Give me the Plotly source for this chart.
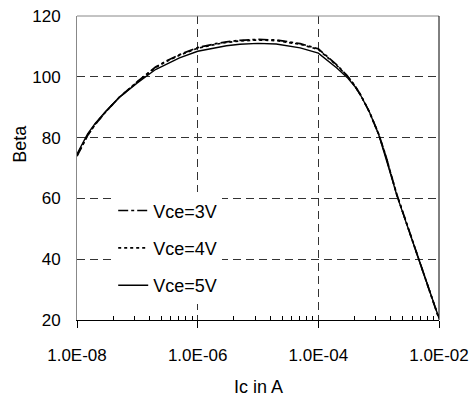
import plotly.graph_objects as go

# ---- data ----
ic_amps = [1e-8, 1.5e-8, 2e-8, 3e-8, 5e-8, 7e-8, 1e-7, 2e-7, 3e-7, 5e-7,
           1e-6, 2e-6, 3e-6, 5e-6, 1e-5, 2e-5, 3e-5, 5e-5, 1e-4, 1.5e-4,
           2e-4, 3e-4, 4e-4, 5e-4, 7e-4, 1e-3, 1.3e-3, 1.6e-3, 2e-3, 3e-3,
           4e-3, 5e-3, 7e-3, 1e-2]
beta_vce3 = [73.9, 80.7, 84.3, 88.5, 93.2, 95.8, 98.4, 103.2, 105.2, 107.3,
             109.6, 110.9, 111.5, 112.0, 112.3, 112.1, 111.6, 110.9, 109.2, 106.3,
             104.0, 100.4, 97.2, 94.1, 88.5, 81.2, 74.3, 68.0, 61.3, 51.0,
             43.5, 37.8, 29.5, 20.4]
beta_vce4 = [74.1, 80.8, 84.4, 88.5, 93.2, 95.8, 98.3, 103.0, 105.0, 107.1,
             109.4, 110.7, 111.3, 111.8, 112.1, 111.9, 111.4, 110.7, 109.0, 106.1,
             103.8, 100.3, 97.1, 94.1, 88.5, 81.1, 74.2, 67.9, 61.2, 50.9,
             43.5, 37.8, 29.5, 20.5]
beta_vce5 = [74.6, 81.2, 84.7, 88.7, 93.2, 95.6, 98.0, 102.4, 104.2, 106.2,
             108.4, 109.6, 110.2, 110.7, 111.0, 110.8, 110.3, 109.5, 107.8, 105.1,
             103.0, 99.8, 96.9, 94.0, 88.5, 81.0, 73.9, 67.6, 61.0, 50.8,
             43.4, 37.8, 29.5, 20.6]
series_names = ["Vce=3V", "Vce=4V", "Vce=5V"]

x_tick_vals = [1e-8, 1e-6, 1e-4, 1e-2]
x_tick_text = ["1.0E-08", "1.0E-06", "1.0E-04", "1.0E-02"]
x_minor_vals = [m * m * d for d in (1e-8, 1e-6, 1e-4) for m in range(2, 10)]
y_tick_vals = [20, 40, 60, 80, 100, 120]

FONT = "Liberation Sans, Arial, sans-serif"

fig = go.Figure()
styles = [dict(dash="10px,3px,3px,3px", width=1.7),
          dict(dash="3px,3px", width=1.7),
          dict(dash="solid", width=1.4)]
for name, ys, st, grp in zip(series_names, [beta_vce3, beta_vce4, beta_vce5], styles, ["a", "b", "c"]):
    fig.add_trace(go.Scatter(x=ic_amps, y=ys, mode="lines", name=name,
                             legendgroup=grp,
                             line=dict(color="black", **st)))

fig.update_layout(
    width=473, height=414,
    margin=dict(l=77, r=34, t=16, b=94),
    paper_bgcolor="white", plot_bgcolor="white",
    font=dict(family=FONT, size=17, color="black"),
    showlegend=True,
    legend=dict(x=0.10, y=0.42, xanchor="left", yanchor="top",
                bgcolor="white", borderwidth=0,
                font=dict(family=FONT, size=18, color="black"),
                traceorder="grouped", tracegroupgap=11),
    xaxis=dict(type="log", range=[-8, -2], automargin=False,
               tickmode="array", tickvals=x_tick_vals, ticktext=x_tick_text,
               ticks="outside", ticklen=7, tickcolor="black", tickwidth=1,
               ticklabelstandoff=13,
               showline=True, linecolor="black", linewidth=1,
               showgrid=True, gridcolor="#333333", gridwidth=1, griddash="8px,5px",
               zeroline=False,
               minor=dict(tickmode="array", tickvals=x_minor_vals, ticks="inside",
                          ticklen=4, tickcolor="black", showgrid=False),
               tickfont=dict(size=17)),
    yaxis=dict(range=[20, 120], tickmode="array", tickvals=y_tick_vals,
               automargin=False,
               ticks="", ticklabelstandoff=12,
               showline=True, linecolor="#888888", linewidth=1,
               showgrid=True, gridcolor="#333333", gridwidth=1, griddash="8px,5px",
               zeroline=False, tickfont=dict(size=17)),
    annotations=[
        dict(text="Beta", xref="paper", yref="paper", x=-0.158, y=0.579,
             textangle=-90, showarrow=False, font=dict(size=18),
             xanchor="center", yanchor="middle"),
        dict(text="Ic in A", xref="paper", yref="paper", x=0.5, y=-0.22,
             showarrow=False, font=dict(size=18),
             xanchor="center", yanchor="middle"),
    ],
    shapes=[
        dict(type="line", xref="paper", yref="paper", x0=0, x1=1, y0=1, y1=1,
             line=dict(color="#888888", width=1)),
        dict(type="line", xref="paper", yref="paper", x0=1, x1=1, y0=0, y1=1,
             line=dict(color="black", width=1)),
    ],
)

fig.write_html("out.html", config={"displayModeBar": False},
               post_script="document.body.style.margin='0';")
